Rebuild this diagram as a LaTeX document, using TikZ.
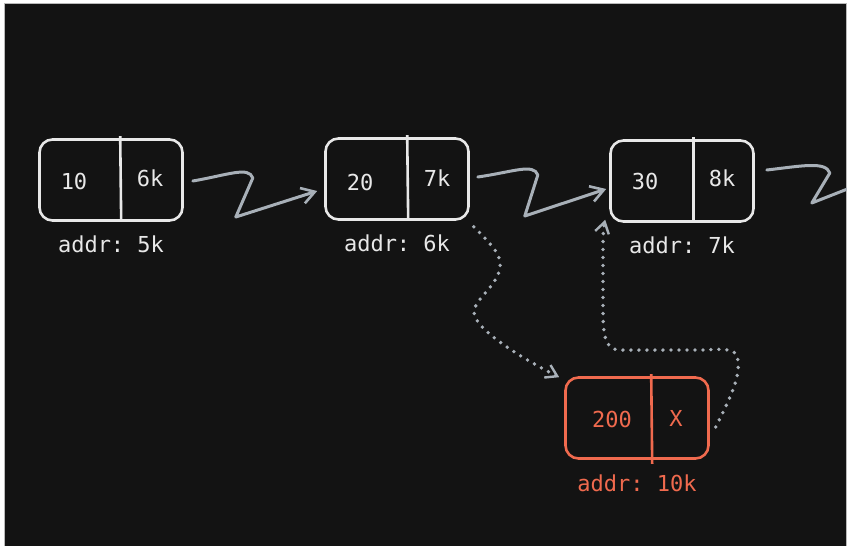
\documentclass[tikz,border=0pt]{standalone}
\usepackage{fontspec}
\setmonofont{DejaVu Sans Mono}
\usetikzlibrary{positioning, arrows.meta, calc}
\definecolor{board}{RGB}{19,19,19}
\definecolor{chalk}{RGB}{232,232,232}
\definecolor{wire}{RGB}{168,176,184}
\definecolor{fresh}{RGB}{240,106,78}
\tikzset{
	cell/.style={draw=chalk, line width=2.6pt, rounded corners=13pt, minimum width=143pt, minimum height=81pt},
	val/.style={text=chalk, font=\ttfamily\fontsize{22}{22}\selectfont},
	addr/.style={text=chalk, font=\ttfamily\fontsize{22}{22}\selectfont},
	link/.style={draw=wire, line width=3pt, line cap=round, line join=round, -{Straight Barb[length=13pt,width=16pt,line width=2.6pt]}},
	hop/.style={draw=wire, line width=3.8pt, line cap=round, dash pattern=on 0pt off 8pt, -{Straight Barb[length=11pt,width=14pt,line width=2.4pt]}}
}

\begin{document}
\begin{tikzpicture}[x=1pt, y=-1pt]
		\useasboundingbox (0,0) rectangle (847,546);
		\fill[white] (0,0) rectangle (847,546);
		\fill[board, draw=gray!55, line width=0.8pt] (4,3) rectangle (846,547);
		% list nodes
		\node[cell] (n1) at (111,180) {};
		\node[cell] (n2) at (397,179) {};
		\node[cell] (n3) at (682,181) {};
		\node[cell, draw=fresh] (n4) at (637,418) {};
		\draw[chalk, line width=2.6pt] ([xshift=82pt,yshift=2pt]n1.north west) -- ([xshift=83pt]n1.south west);
		\draw[chalk, line width=2.6pt] ([xshift=83pt,yshift=2pt]n2.north west) -- ([xshift=84pt]n2.south west);
		\draw[chalk, line width=2.6pt] ([xshift=84pt,yshift=2pt]n3.north west) -- ([xshift=84pt]n3.south west);
		\draw[fresh, line width=2.6pt] ([xshift=87pt,yshift=2pt]n4.north west) -- ([xshift=88pt,yshift=-4pt]n4.south west);
		\node[val] (v1) at (74,181) {10};
		\node[val] (p1) at (150,178) {6k};
		\node[val] (v2) at (360,182) {20};
		\node[val] (p2) at (437,178) {7k};
		\node[val] (v3) at (645,181) {30};
		\node[val] (p3) at (722,178) {8k};
		\node[val, text=fresh] (v4) at (612,419) {200};
		\node[val, text=fresh] (p4) at (676,418) {X};
		\node[addr, below=10pt of n1] (a1) {addr: 5k};
		\node[addr, below=10pt of n2] (a2) {addr: 6k};
		\node[addr, below=10pt of n3] (a3) {addr: 7k};
		\node[addr, text=fresh, below=11pt of n4] (a4) {addr: 10k};
		% next pointers
		\draw[link] ($(n1.east)+(9,1)$) .. controls +(35,-6) and +(-4,-12) .. ($(n1.east)+(69,-2)$) -- ($(n1.east)+(52,37)$) -- ($(n2.west)+(-7,12)$);
		\draw[link] ($(n2.east)+(8,-2)$) .. controls +(35,-5) and +(-4,-12) .. ($(n2.east)+(68,-4)$) -- ($(n2.east)+(55,37)$) -- ($(n3.west)+(-3,8)$);
		\coordinate (off) at (850,188);
		\draw[draw=wire, line width=3pt, line cap=round, line join=round] ($(n3.east)+(12,-11)$) .. controls +(35,-4) and +(-4,-12) .. ($(n3.east)+(75,-8)$) -- ($(n3.east)+(57,22)$) -- (off);
		% insertion
		\draw[hop] ($(n2.south east)+(4,6)$) .. controls +(20,20) and +(2,-12) .. (500,268) .. controls +(-3,18) and +(0,-12) .. (474,312) .. controls +(0,20) and +(-20,-10) .. ($(n4.north west)+(-5,1)$);
		\draw[hop] ($(n4.east)+(6,9)$) .. controls +(12,-25) and +(2,18) .. (738,362) .. controls +(0,-12) and +(25,-2) .. (705,350) -- (620,350) .. controls +(-15,0) and +(0,25) .. (603,310) -- (603,250) .. controls +(0,-12) and +(-2,8) .. ($(n3.south west)+(-4,-3)$);
	\end{tikzpicture}
\end{document}
